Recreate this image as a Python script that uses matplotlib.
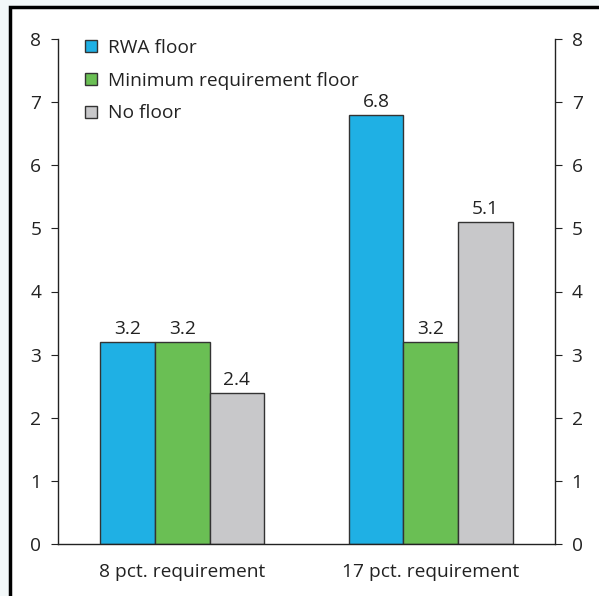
import matplotlib
matplotlib.use("Agg")
import matplotlib.pyplot as plt
from matplotlib.patches import Rectangle
import numpy as np

categories = ["8 pct. requirement", "17 pct. requirement"]
series_names = ["RWA floor", "Minimum requirement floor", "No floor"]
rwa_floor = [3.2, 6.8]
min_req_floor = [3.2, 3.2]
no_floor = [2.4, 5.1]
yticks = [0, 1, 2, 3, 4, 5, 6, 7, 8]

colors = ["#1fb0e4", "#6abf54", "#c8c8ca"]
edge = "#333333"
plt.rcParams['font.family'] = ['Open Sans', 'DejaVu Sans']
FS = 13.8

fig = plt.figure(figsize=(5.99, 5.96), dpi=100)
fig.patch.set_facecolor("#f3f8f9")
# white inner frame with black border
fig.patches.append(Rectangle((10/599, -0.05), 1.0, 1 - 7/596 + 0.05, transform=fig.transFigure,
                             facecolor="white", edgecolor="black", linewidth=2.5, zorder=-10))

ax = fig.add_axes([58/599, 1 - 544/596, (555-58)/599, (544-39)/596])
ax.set_zorder(5)
ax.set_facecolor("none")
x = np.arange(len(categories))
w = 0.22
for i, (vals, name) in enumerate(zip([rwa_floor, min_req_floor, no_floor], series_names)):
    bars = ax.bar(x + (i - 1) * w, vals, w, color=colors[i], edgecolor=edge, linewidth=1, label=name)
    for b, v in zip(bars, vals):
        ax.text(b.get_x() + b.get_width()/2, v + 0.06, f"{v:.1f}", ha="center", va="bottom",
                fontsize=FS, color="#222222")

ax.set_xlim(-0.5, 1.5)
ax.set_ylim(0, 8)
ax.set_yticks(yticks)
ax.set_xticks(x)
ax.set_xticklabels(categories)
ax.tick_params(axis="x", length=0, pad=14, labelsize=FS, colors="#222222")
ax.tick_params(axis="y", direction="out", length=5, labelsize=FS, colors="#222222",
               left=True, right=True, labelleft=True, labelright=True, pad=7)
for s in ["top"]:
    ax.spines[s].set_visible(False)
for s in ["left", "right", "bottom"]:
    ax.spines[s].set_color("#222222")
    ax.spines[s].set_linewidth(1)

leg = ax.legend(loc="upper left", bbox_to_anchor=(0.02, 1.035), frameon=False, fontsize=FS,
                handlelength=0.6, handleheight=0.6, handletextpad=0.6, labelspacing=0.78)
for t in leg.get_texts():
    t.set_color("#222222")

fig.savefig("out.png", dpi=100, facecolor=fig.get_facecolor())
